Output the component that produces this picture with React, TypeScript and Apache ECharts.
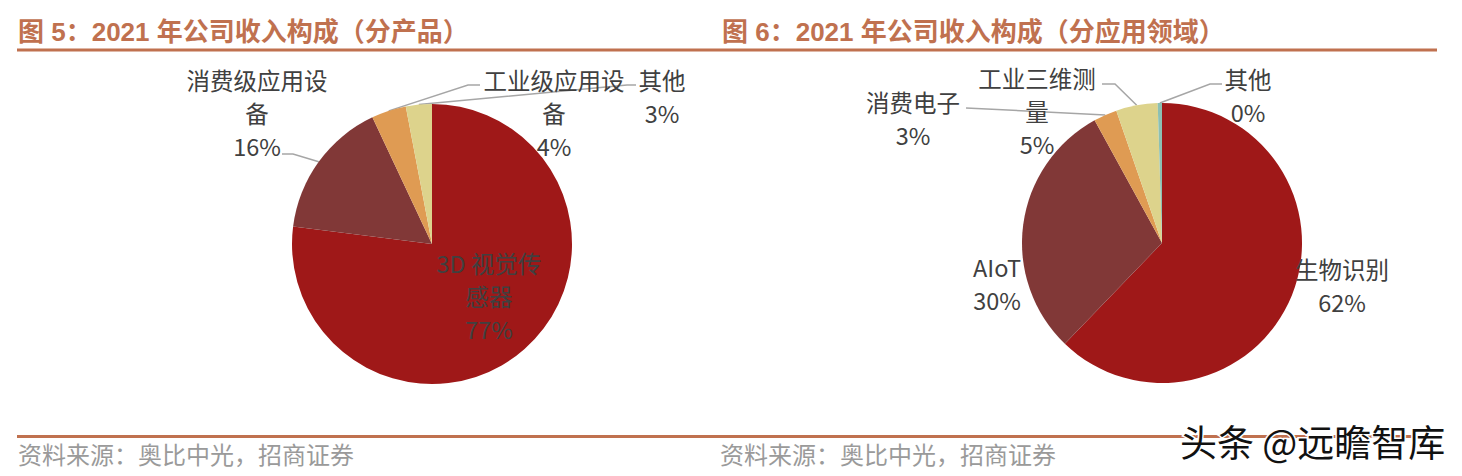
import React, { useEffect, useRef } from "react";
import * as echarts from "echarts";

// ---------- data ----------
const productNames = ["3D 视觉传感器", "消费级应用设备", "工业级应用设备", "其他"];
const productValues = [77, 16, 4, 3];
const fieldNames = ["生物识别", "AIoT", "消费电子", "工业三维测量", "其他"];
const fieldValues = [62.2, 29.8, 2.7, 4.8, 0.49];
const titleTexts = [
  "图 5：2021 年公司收入构成（分产品）",
  "图 6：2021 年公司收入构成（分应用领域）",
];
const sourceText = "资料来源：奥比中光，招商证券";
const watermarkText = "头条 @远瞻智库";

// ---------- styles / layout ----------
const productColors = ["#9F1818", "#813837", "#DF9B53", "#DDD38C"];
const fieldColors = ["#9F1818", "#813837", "#DF9B53", "#DDD38C", "#8CC0B3"];
const ACCENT = "#C0714F";
const LABEL_FONT = '"Liberation Sans Narrow", "Arial Narrow", "Noto Sans CJK SC", sans-serif';
const TITLE_FONT = '"Liberation Sans", Arial, "Noto Sans CJK SC", sans-serif';
const CJK_FONT = '"Noto Sans CJK SC", sans-serif';

const RADIUS = 140;
const leftCenter = [432, 244];
const rightCenter = [1162, 243];

const productLabelPos = [[489, 296], [257, 113], [554, 113], [662, 96]];
const productLabelTail: (number[][] | null)[] = [
  null,
  [[293, 154], [282, 154]],
  [[468, 85], [480, 85]],
  [[627, 85], [636, 85]],
];
const productLabelWidth = [112, 150, 150, 60];

const fieldLabelPos = [[1342, 285], [997, 283], [913, 118], [1037, 111], [1248, 95]];
const fieldLabelTail: (number[][] | null)[] = [
  null,
  null,
  [[966, 108]],
  [[1115, 84], [1102, 84]],
  [[1210, 84], [1222, 84]],
];
const fieldLabelWidth = [110, 60, 110, 122, 60];

function makePie(
  names: string[],
  values: number[],
  colors: string[],
  center: number[],
  labelPos: number[][],
  labelTail: (number[][] | null)[],
  labelWidth: number[]
) {
  const total = values.reduce((a, b) => a + b, 0);
  const fallbackStart = (i: number) => {
    let before = 0;
    for (let k = 0; k < i; k++) before += values[k];
    const mid = ((before + values[i] / 2) / total) * Math.PI * 2;
    return [center[0] + RADIUS * Math.sin(mid), center[1] - RADIUS * Math.cos(mid)];
  };
  return {
    type: "pie",
    center,
    radius: RADIUS,
    startAngle: 90,
    clockwise: true,
    avoidLabelOverlap: false,
    minShowLabelAngle: 0,
    silent: true,
    emphasis: { disabled: true },
    label: {
      show: true,
      position: "outside",
      color: "#404040",
      fontSize: 23.5,
      lineHeight: 33,
      fontFamily: LABEL_FONT,
      overflow: "break",
      align: "center",
      formatter: (p: any) => `${p.name}\n${Math.round(p.percent)}%`,
    },
    labelLine: {
      show: true,
      length: 10,
      length2: 10,
      lineStyle: { color: "#A6A6A6", width: 1.5 },
    },
    labelLayout: (params: any) => {
      const i = params.dataIndex;
      const res: any = {
        x: labelPos[i][0],
        y: labelPos[i][1],
        align: "center",
        verticalAlign: "middle",
      };
      const tail = labelTail[i];
      if (tail) {
        const start =
          params.labelLinePoints && params.labelLinePoints[0]
            ? params.labelLinePoints[0]
            : fallbackStart(i);
        res.labelLinePoints = [start, ...tail];
      }
      return res;
    },
    data: names.map((n, i) => ({
      name: n,
      value: values[i],
      itemStyle: { color: colors[i] },
      label: { width: labelWidth[i] },
      labelLine: { show: labelTail[i] != null },
    })),
  };
}

function textEl(text: string, x: number, y: number, style: any) {
  return {
    type: "text",
    x,
    y,
    silent: true,
    style: {
      text,
      align: "left",
      verticalAlign: "middle",
      textAlign: "left",
      textVerticalAlign: "middle",
      ...style,
    },
  };
}

export default function App() {
  const ref = useRef<HTMLDivElement>(null);
  useEffect(() => {
    if (!ref.current) return;
    const chart = echarts.init(ref.current, null, { renderer: "svg" });
    const titleStyle = {
      fill: ACCENT,
      fontSize: 26,
      fontWeight: "bold",
      fontFamily: TITLE_FONT,
    };
    const sourceStyle = {
      fill: "#9A9A9A",
      fontSize: 24,
      fontFamily: CJK_FONT,
    };
    chart.setOption({
      animation: false,
      backgroundColor: "#ffffff",
      graphic: {
        elements: [
          textEl(titleTexts[0], 18, 32, titleStyle),
          textEl(titleTexts[1], 722, 32, titleStyle),
          {
            type: "line",
            silent: true,
            shape: { x1: 17, y1: 50, x2: 1437, y2: 50 },
            style: { stroke: ACCENT, lineWidth: 3 },
          },
          {
            type: "line",
            silent: true,
            shape: { x1: 17, y1: 436.5, x2: 1437, y2: 436.5 },
            style: { stroke: ACCENT, lineWidth: 3 },
          },
          textEl(sourceText, 18, 453, sourceStyle),
          textEl(sourceText, 720, 453, sourceStyle),
          {
            ...textEl(watermarkText, 1180, 441, {
              fill: "#111111",
              fontSize: 37,
              fontFamily: CJK_FONT,
              stroke: "#ffffff",
              lineWidth: 3,
            }),
            z: 100,
          },
        ],
      },
      series: [
        makePie(
          productNames,
          productValues,
          productColors,
          leftCenter,
          productLabelPos,
          productLabelTail,
          productLabelWidth
        ),
        makePie(
          fieldNames,
          fieldValues,
          fieldColors,
          rightCenter,
          fieldLabelPos,
          fieldLabelTail,
          fieldLabelWidth
        ),
      ],
    });
    return () => chart.dispose();
  }, []);
  return (
    <div
      ref={ref}
      style={{
        position: "absolute",
        left: 0,
        top: 0,
        width: 1462,
        height: 476,
        background: "#fff",
      }}
    />
  );
}
